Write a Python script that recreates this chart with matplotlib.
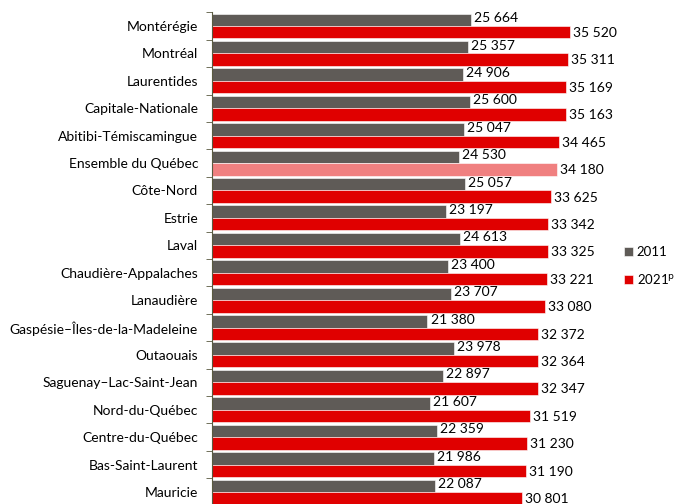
import matplotlib.pyplot as plt
import numpy as np

plt.rcParams['font.family'] = ['Lato', 'DejaVu Sans']

regions = ['Montérégie', 'Montréal', 'Laurentides', 'Capitale-Nationale',
           'Abitibi-Témiscamingue', 'Ensemble du Québec', 'Côte-Nord', 'Estrie',
           'Laval', 'Chaudière-Appalaches', 'Lanaudière',
           'Gaspésie–Îles-de-la-Madeleine', 'Outaouais', 'Saguenay–Lac-Saint-Jean',
           'Nord-du-Québec', 'Centre-du-Québec', 'Bas-Saint-Laurent', 'Mauricie']
val_2011 = [25664, 25357, 24906, 25600, 25047, 24530, 25057, 23197, 24613,
            23400, 23707, 21380, 23978, 22897, 21607, 22359, 21986, 22087]
val_2021 = [35520, 35311, 35169, 35163, 34465, 34180, 33625, 33342, 33325,
            33221, 33080, 32372, 32364, 32347, 31519, 31230, 31190, 30801]

gris = '#5f5b57'
rouge = '#e00000'
rose = '#f08080'

def fmt(v):
    return '{:,}'.format(v).replace(',', ' ')

fig = plt.figure(figsize=(6.77, 5.04), dpi=100)
# axes runs slightly past the bottom edge, like the cropped original
ax = fig.add_axes([212/677, 1 - 505.7/504, (620-212)/677, (505.7-12.3)/504])

y = np.arange(len(regions))
h = 0.455
col_2021 = [rose if r == 'Ensemble du Québec' else rouge for r in regions]

ax.barh(y - h/2, val_2011, height=h, color=gris, edgecolor='white', linewidth=0.4, label='2011')
ax.barh(y + h/2, val_2021, height=h, color=col_2021, edgecolor='white', linewidth=0.4,
        label='2021$^{\\mathrm{p}}$')

for i in range(len(regions)):
    ax.text(val_2011[i] + 300, y[i] - h/2 - 0.06, fmt(val_2011[i]), va='center', fontsize=10)
    ax.text(val_2021[i] + 300, y[i] + h/2 + 0.03, fmt(val_2021[i]), va='center', fontsize=10)

ax.set_ylim(len(regions) - 0.5, -0.5)
ax.set_xlim(0, (620-212)/0.010079)
ax.set_yticks(y)
ax.set_yticklabels(regions, fontsize=10)
ax.set_yticks(np.arange(len(regions) + 1) - 0.5, minor=True)
ax.tick_params(axis='y', which='major', length=0, pad=10)
ax.tick_params(axis='y', which='minor', length=4, color='#5a5a40')
ax.set_xticks([])
for s in ['top', 'right', 'bottom']:
    ax.spines[s].set_visible(False)
ax.spines['left'].set_color('#5a5a40')
ax.spines['left'].set_linewidth(0.8)

handles, labels = ax.get_legend_handles_labels()
handles[1].patches[0].set_facecolor(rouge)
fig.legend(handles, labels, loc='center left', bbox_to_anchor=(621/677, 1 - 266/504),
           frameon=False, fontsize=9.5, handlelength=0.7, handleheight=0.7,
           handletextpad=0.3, labelspacing=1.1, borderpad=0.2, borderaxespad=0)

fig.savefig('out.png', dpi=100)
